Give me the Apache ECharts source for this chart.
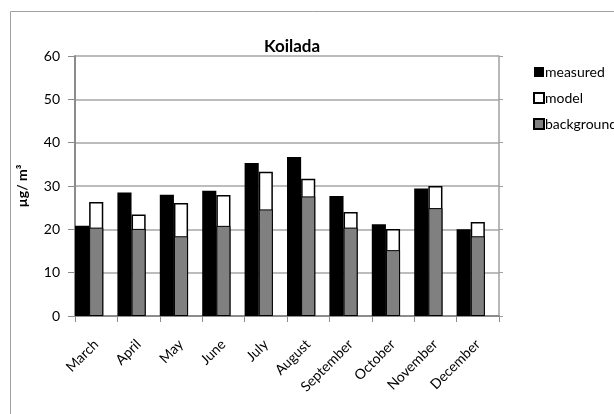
<!DOCTYPE html>
<html>
<head>
<meta charset="utf-8">
<script src="https://cdn.jsdelivr.net/npm/echarts@6/dist/echarts.min.js"></script>
<style>
  html, body { margin: 0; padding: 0; background: #fff; }
  #chart { width: 614px; height: 414px; }
</style>
</head>
<body>
<div id="chart"></div>
<script>
// Monthly concentrations at Koilada (µg/m³)
const months = ['March', 'April', 'May', 'June', 'July', 'August', 'September', 'October', 'November', 'December'];
const measured = [20.8, 28.5, 28.0, 28.9, 35.3, 36.7, 27.7, 21.2, 29.4, 20.0];
const model = [26.3, 23.4, 26.1, 27.9, 33.3, 31.7, 24.0, 20.1, 30.0, 21.7];
const background = [20.4, 20.1, 18.4, 20.8, 24.6, 27.6, 20.4, 15.2, 24.9, 18.4];
const yTicks = [0, 10, 20, 30, 40, 50, 60];

const FONT = 'Lato';
const empty = months.map(() => '-');

const chart = echarts.init(document.getElementById('chart'), null, { renderer: 'canvas' });

chart.setOption({
  animation: false,
  backgroundColor: '#fff',
  textStyle: { fontFamily: FONT, color: '#000' },
  title: {
    text: 'Koilada',
    left: 287, top: 33, textAlign: 'center',
    textStyle: { fontFamily: FONT, fontWeight: 'bold', fontSize: 17, color: '#000' }
  },
  graphic: [{
    type: 'rect', silent: true, z: -10,
    shape: { x: 10.5, y: 11.5, width: 700, height: 500 },
    style: { fill: 'none', stroke: '#a0a0a0', lineWidth: 1 }
  }],
  legend: {
    orient: 'vertical', left: 528, top: 60,
    itemWidth: 10, itemHeight: 10, itemGap: 12,
    data: [
      { name: 'measured', icon: 'rect' },
      { name: 'model', icon: 'rect' },
      { name: 'background', icon: 'rect' }
    ],
    textStyle: { fontFamily: FONT, fontSize: 14, color: '#000', padding: [0, 0, 0, -4] }
  },
  grid: { left: 75, right: 115, top: 56, bottom: 98 },
  xAxis: [{
    type: 'category', data: months,
    axisLine: { lineStyle: { color: '#8c8c8c', width: 2 } },
    axisTick: { show: true, length: 6, lineStyle: { color: '#8c8c8c', width: 1 } },
    axisLabel: { rotate: 45, margin: 26, fontFamily: FONT, fontSize: 14, color: '#000', interval: 0 }
  }, {
    type: 'category', data: months, show: false
  }],
  yAxis: [{
    type: 'value', min: 0, max: 60, interval: 10,
    name: 'µg/ m³', nameLocation: 'middle', nameGap: 46, nameRotate: 90,
    nameTextStyle: { fontFamily: FONT, fontWeight: 'bold', fontSize: 14, color: '#000' },
    axisLine: { show: true, lineStyle: { color: '#8c8c8c', width: 2 } },
    axisTick: { show: true, length: 7, lineStyle: { color: '#8c8c8c', width: 1 } },
    axisLabel: { margin: 15, fontFamily: FONT, fontSize: 14, color: '#000',
      formatter: v => yTicks.includes(v) ? String(v) : '' },
    splitLine: { lineStyle: { color: '#a6a6a6', width: 1.5 } }
  }, {
    type: 'value', min: 0, max: 60, interval: 10, position: 'right',
    axisLine: { show: true, lineStyle: { color: '#a0a0a0', width: 1.5 } },
    axisTick: { show: true, length: 4, lineStyle: { color: '#a0a0a0', width: 1 } },
    axisLabel: { show: false },
    splitLine: { show: false }
  }],
  series: [
    {
      name: 'measured', type: 'bar', xAxisIndex: 0, yAxisIndex: 0,
      data: measured, barGap: '0%', barCategoryGap: '0%',
      itemStyle: { color: '#000' }, z: 2
    },
    {
      name: 'model', type: 'bar', xAxisIndex: 0, yAxisIndex: 0,
      data: model, barGap: '0%', barCategoryGap: '0%',
      itemStyle: { color: '#fff', borderColor: '#000', borderWidth: 1.5 }, z: 2
    },
    {
      name: 'spacer-a', type: 'bar', xAxisIndex: 0, yAxisIndex: 0,
      data: empty, barGap: '0%', barCategoryGap: '0%', silent: true
    },
    {
      name: 'spacer-b', type: 'bar', xAxisIndex: 1, yAxisIndex: 0,
      data: empty, barGap: '0%', barCategoryGap: '0%', silent: true
    },
    {
      name: 'background', type: 'bar', xAxisIndex: 1, yAxisIndex: 0,
      data: background, barGap: '0%', barCategoryGap: '0%',
      itemStyle: { color: '#808080', borderColor: '#000', borderWidth: 1 }, z: 3
    },
    {
      name: 'spacer-c', type: 'bar', xAxisIndex: 1, yAxisIndex: 0,
      data: empty, barGap: '0%', barCategoryGap: '0%', silent: true
    }
  ]
});
</script>
</body>
</html>
